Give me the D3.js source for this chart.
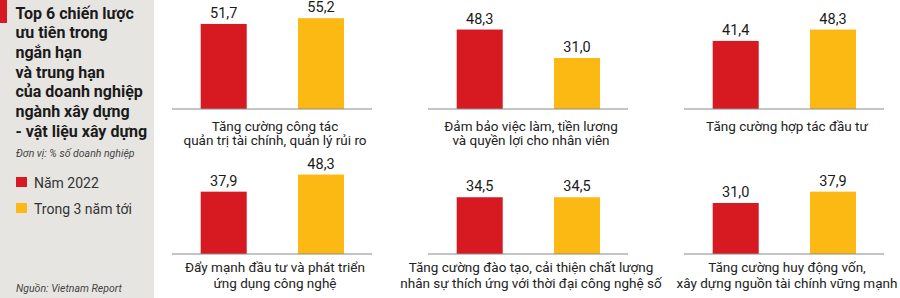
<!DOCTYPE html>
<html lang="vi">
<head>
<meta charset="utf-8">
<title>Top 6 chiến lược</title>
<script src="https://cdn.jsdelivr.net/npm/d3@7"></script>
<style>
  body { margin: 0; background: #fff; }
  svg { display: block; font-family: Roboto, "Noto Sans", sans-serif; }
</style>
</head>
<body>
<script>
// du lieu
var categories = [
  ["Tăng cường công tác", "quản trị tài chính, quản lý rủi ro"],
  ["Đảm bảo việc làm, tiền lương", "và quyền lợi cho nhân viên"],
  ["Tăng cường hợp tác đầu tư"],
  ["Đẩy mạnh đầu tư và phát triển", "ứng dụng công nghệ"],
  ["Tăng cường đào tạo, cải thiện chất lượng", "nhân sự thích ứng với thời đại công nghệ số"],
  ["Tăng cường huy động vốn,", "xây dựng nguồn tài chính vững mạnh"]
];
var series = ["Năm 2022", "Trong 3 năm tới"];
var values2022 = [51.7, 48.3, 41.4, 37.9, 34.5, 31.0];
var valuesNext3 = [55.2, 31.0, 48.3, 48.3, 34.5, 37.9];
var titleLines = ["Top 6 chiến lược", "ưu tiên trong", "ngắn hạn", "và trung hạn",
  "của doanh nghiệp", "ngành xây dựng", "- vật liệu xây dựng"];

var width = 900, height = 298;
var colors = ["#d71a21", "#fdb913"];

var svg = d3.select("body").append("svg")
  .attr("width", width)
  .attr("height", height);

// cot trai
svg.append("rect").attr("width", 154).attr("height", height).attr("fill", "#e7e5e2");
svg.append("rect").attr("width", 7).attr("height", 23).attr("fill", colors[0]);

svg.append("g")
  .selectAll("text")
  .data(titleLines)
  .join("text")
  .attr("x", 15.5)
  .attr("y", (d, i) => 18.5 + i * 19.7)
  .attr("font-size", 16)
  .attr("font-weight", 700)
  .attr("fill", "#1a1a1a")
  .text(d => d);

svg.append("text")
  .attr("x", 16).attr("y", 157)
  .attr("font-size", 10.5).attr("font-style", "italic").attr("fill", "#444")
  .text("Đơn vị: % số doanh nghiệp");

var legend = svg.append("g").selectAll("g")
  .data(series)
  .join("g")
  .attr("transform", (d, i) => `translate(16,${177 + i * 26})`);
legend.append("rect").attr("width", 11).attr("height", 10).attr("fill", (d, i) => colors[i]);
legend.append("text")
  .attr("x", 18).attr("y", 10.5)
  .attr("font-size", 14).attr("fill", "#333")
  .text(d => d);

svg.append("text")
  .attr("x", 16).attr("y", 292)
  .attr("font-size", 10.5).attr("font-style", "italic").attr("fill", "#444")
  .text("Nguồn: Vietnam Report");

// cac bieu do nho
var colX = d3.scalePoint().domain([0, 1, 2]).range([172, 684]);
var rowY = d3.scalePoint().domain([0, 1]).range([109, 254]);
var x = d3.scaleBand().domain([0, 1]).range([28.7, 172]).paddingInner(0.527).paddingOuter(0);
var y = d3.scaleLinear().domain([0, 60]).range([0, 98.7]);
var fmt = v => d3.format(".1f")(v).replace(".", ",");

var panels = svg.append("g").selectAll("g")
  .data(categories.map((c, i) => ({ label: c, vals: [values2022[i], valuesNext3[i]], i: i })))
  .join("g")
  .attr("transform", d => `translate(${colX(d.i % 3)},${rowY(Math.floor(d.i / 3))})`);

panels.selectAll("rect")
  .data(d => d.vals)
  .join("rect")
  .attr("x", (v, j) => x(j))
  .attr("y", v => -y(v))
  .attr("width", x.bandwidth())
  .attr("height", v => y(v))
  .attr("fill", (v, j) => colors[j]);

panels.selectAll(".val")
  .data(d => d.vals)
  .join("text")
  .attr("class", "val")
  .attr("x", (v, j) => x(j) + x.bandwidth() / 2)
  .attr("y", v => -y(v) - 6)
  .attr("text-anchor", "middle")
  .attr("font-size", 14.5)
  .attr("fill", "#1a1a1a")
  .text(fmt);

panels.append("line")
  .attr("x1", 0).attr("x2", 200)
  .attr("stroke", "#8a8a8a").attr("stroke-width", 1);

panels.selectAll(".cat")
  .data(d => d.label.map(t => ({ t: t, row: Math.floor(d.i / 3) })))
  .join("text")
  .attr("class", "cat")
  .attr("x", 103)
  .attr("y", (d, k) => (d.row === 0 ? 21.5 : 18) + k * (d.row === 0 ? 14.5 : 16))
  .attr("text-anchor", "middle")
  .attr("font-size", 13.5)
  .attr("fill", "#222")
  .text(d => d.t);
</script>
</body>
</html>
